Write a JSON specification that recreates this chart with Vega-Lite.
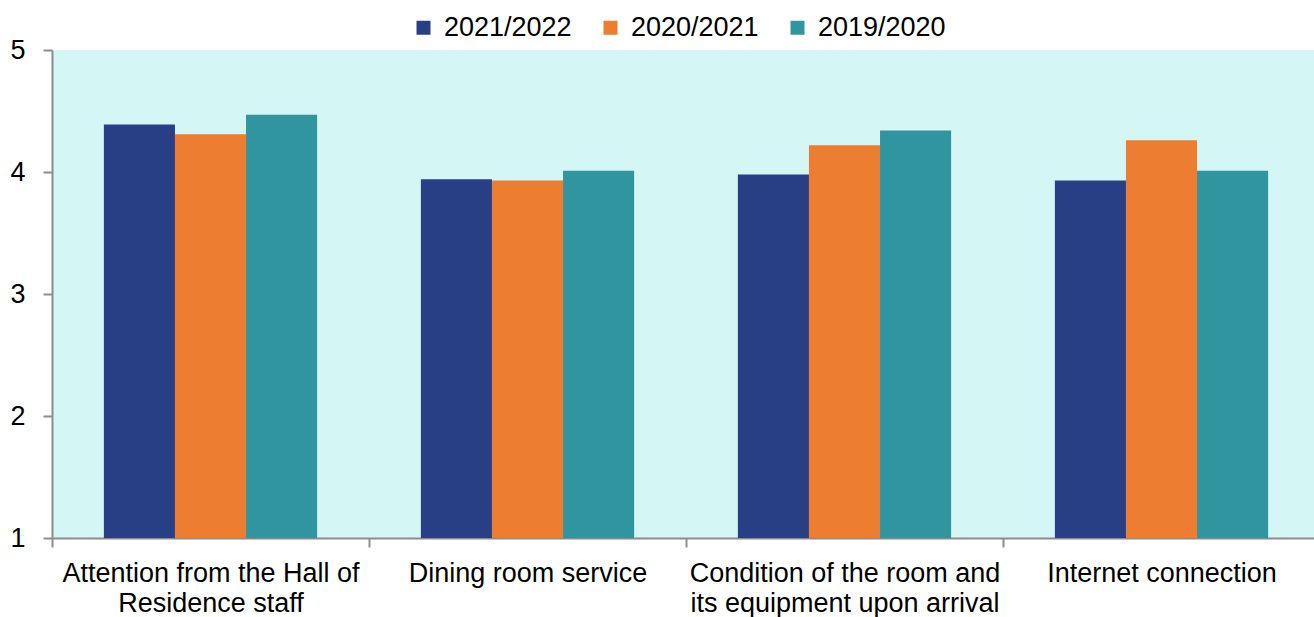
{
  "$schema": "https://vega.github.io/schema/vega-lite/v6.json",
  "width": 1268,
  "height": 488,
  "autosize": "none",
  "padding": {"left": 52, "top": 50, "right": 0, "bottom": 79},
  "background": "white",
  "config": {
    "view": {"fill": "#D4F6F4", "stroke": null},
    "font": "Liberation Sans",
    "axis": {"grid": false, "domainColor": "#8C8C8C", "domainWidth": 2, "tickColor": "#8C8C8C", "tickWidth": 2, "labelColor": "#000000", "labelFontSize": 27, "labelFont": "Liberation Sans", "title": null}
  },
  "data": {
    "values": [
      {"item": "Attention from the Hall of Residence staff", "year": "2021/2022", "score": 4.39},
      {"item": "Attention from the Hall of Residence staff", "year": "2020/2021", "score": 4.31},
      {"item": "Attention from the Hall of Residence staff", "year": "2019/2020", "score": 4.47},
      {"item": "Dining room service", "year": "2021/2022", "score": 3.94},
      {"item": "Dining room service", "year": "2020/2021", "score": 3.93},
      {"item": "Dining room service", "year": "2019/2020", "score": 4.01},
      {"item": "Condition of the room and its equipment upon arrival", "year": "2021/2022", "score": 3.98},
      {"item": "Condition of the room and its equipment upon arrival", "year": "2020/2021", "score": 4.22},
      {"item": "Condition of the room and its equipment upon arrival", "year": "2019/2020", "score": 4.34},
      {"item": "Internet connection", "year": "2021/2022", "score": 3.93},
      {"item": "Internet connection", "year": "2020/2021", "score": 4.26},
      {"item": "Internet connection", "year": "2019/2020", "score": 4.01}
    ]
  },
  "mark": {"type": "bar"},
  "encoding": {
    "x": {
      "field": "item",
      "type": "nominal",
      "sort": ["Attention from the Hall of Residence staff", "Dining room service", "Condition of the room and its equipment upon arrival", "Internet connection"],
      "scale": {"paddingInner": 0, "paddingOuter": 0},
      "axis": {
        "labelAngle": 0,
        "tickBand": "extent",
        "tickSize": 9,
        "labelPadding": 13,
        "labelLineHeight": 30,
        "labelLimit": 0,
        "labelExpr": "datum.value == 'Attention from the Hall of Residence staff' ? ['Attention from the Hall of', 'Residence staff'] : datum.value == 'Condition of the room and its equipment upon arrival' ? ['Condition of the room and', 'its equipment upon arrival'] : datum.value"
      }
    },
    "xOffset": {"field": "year", "type": "nominal", "sort": ["2021/2022", "2020/2021", "2019/2020"], "scale": {"paddingInner": 0, "paddingOuter": 0.73}},
    "y": {
      "field": "score",
      "type": "quantitative",
      "scale": {"domain": [1, 5], "zero": false, "nice": false},
      "axis": {"values": [1, 2, 3, 4, 5], "tickSize": 9, "labelPadding": 18}
    },
    "y2": {"datum": 1},
    "color": {
      "field": "year",
      "type": "nominal",
      "sort": ["2021/2022", "2020/2021", "2019/2020"],
      "scale": {"domain": ["2021/2022", "2020/2021", "2019/2020"], "range": ["#283E85", "#ED7D31", "#3195A0"]},
      "legend": {
        "title": null,
        "orient": "none",
        "legendX": 358,
        "legendY": -36,
        "direction": "horizontal",
        "symbolType": "square",
        "symbolSize": 196,
        "symbolStrokeWidth": 0,
        "labelFontSize": 27,
        "labelFont": "Liberation Sans",
        "labelOffset": 7,
        "columnPadding": 25,
        "labelColor": "#000000"
      }
    }
  }
}
